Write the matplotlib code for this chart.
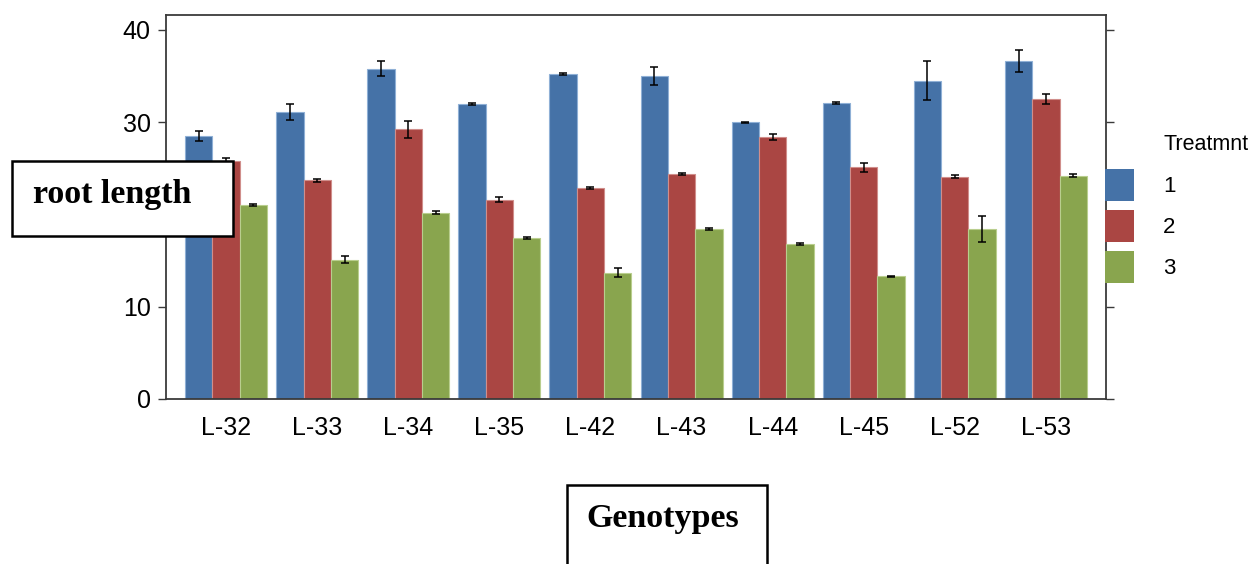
import matplotlib
matplotlib.use("Agg")
import matplotlib.pyplot as plt
from matplotlib.patches import Rectangle
import numpy as np

genotypes = ["L-32", "L-33", "L-34", "L-35", "L-42", "L-43", "L-44", "L-45", "L-52", "L-53"]
treatments = ["1", "2", "3"]
y_ticks = [0, 10, 20, 30, 40]
y_ticklabels = ["0", "10", "", "30", "40"]  # 20 sits under the "root length" box

# mean root length per treatment
treat_1 = [28.5, 31.1, 35.8, 32.0, 35.2, 35.0, 30.0, 32.1, 34.5, 36.6]
treat_2 = [25.8, 23.7, 29.2, 21.6, 22.9, 24.4, 28.4, 25.1, 24.1, 32.5]
treat_3 = [21.0, 15.1, 20.2, 17.4, 13.7, 18.4, 16.8, 13.3, 18.4, 24.2]

# error bar half-lengths
err_1 = [0.5, 0.9, 0.8, 0.1, 0.15, 1.0, 0.05, 0.1, 2.1, 1.2]
err_2 = [0.3, 0.15, 0.9, 0.3, 0.1, 0.1, 0.3, 0.5, 0.2, 0.55]
err_3 = [0.1, 0.35, 0.15, 0.1, 0.45, 0.1, 0.15, 0.05, 1.4, 0.2]

colors = ["#4572A7", "#AA4643", "#89A54E"]
edges = ["#8FB0D6", "#D08E8B", "#B9CE8E"]

W, H = 1252, 564
fig = plt.figure(figsize=(W / 100, H / 100), dpi=100)
ax = fig.add_axes([166 / W, 1 - 399 / H, (1106 - 166) / W, (399 - 15) / H])

x = np.arange(len(genotypes))
width = 0.3
series = [(treat_1, err_1), (treat_2, err_2), (treat_3, err_3)]
handles = []
for i, (vals, errs) in enumerate(series):
    pos = x + (i - 1) * width
    b = ax.bar(pos, vals, width, color=colors[i], edgecolor=edges[i], linewidth=0.8,
               yerr=errs, capsize=2.6,
               error_kw=dict(ecolor="black", elinewidth=1.1, capthick=1.1))
    handles.append(b)

ax.set_xlim(-0.66, 9.66)
ax.set_ylim(0, 41.6)
ax.set_yticks(y_ticks)
ax.set_yticklabels(y_ticklabels)
ax.set_xticks(x)
ax.set_xticklabels(genotypes)

for s in ax.spines.values():
    s.set_color("#3a3a3a")
    s.set_linewidth(1.3)

ax.tick_params(axis="y", which="both", direction="out", length=6, width=1,
               color="#3a3a3a", labelsize=18, pad=5, right=True)
ax.tick_params(axis="x", length=0, labelsize=18, pad=12)
for lab in ax.get_xticklabels() + ax.get_yticklabels():
    lab.set_fontfamily("Liberation Sans")

# legend on the right
leg = fig.legend([h.patches[0] for h in handles], treatments,
                 loc="upper left", bbox_to_anchor=(1105 / W, 1 - 169 / H),
                 frameon=False, borderpad=0, borderaxespad=0,
                 handlelength=1.3, handleheight=1.84, handletextpad=1.3,
                 labelspacing=0.4, prop={"family": "Liberation Sans", "size": 16})
for p in leg.get_patches():
    p.set_edgecolor("none")
fig.text(1163 / W, 1 - 145 / H, "Treatmnt", fontsize=15.5, family="Liberation Sans",
         ha="left", va="center")

# boxed labels
fig.patches.append(Rectangle((12 / W, 1 - 236 / H), (233 - 12) / W, (236 - 161) / H,
                             transform=fig.transFigure, facecolor="white",
                             edgecolor="black", linewidth=1.8))
fig.text(33 / W, 1 - 194 / H, "root length", fontsize=24.5, family="Liberation Serif",
         weight="bold", ha="left", va="center")

fig.patches.append(Rectangle((567 / W, -0.1), (767 - 567) / W, (1 - 485 / H) + 0.1,
                             transform=fig.transFigure, facecolor="white",
                             edgecolor="black", linewidth=1.8))
fig.text(663 / W, 1 - 519 / H, "Genotypes", fontsize=24.5, family="Liberation Serif",
         weight="bold", ha="center", va="center")

fig.savefig("out.png", dpi=100)
